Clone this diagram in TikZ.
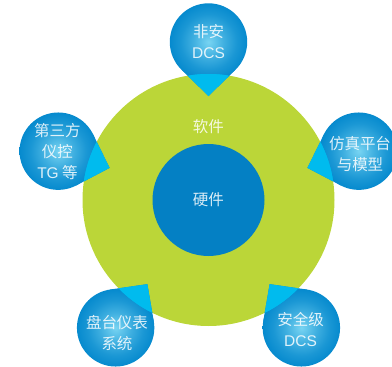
\documentclass[tikz,border=0pt]{standalone}
\usepackage{fontspec}
\usetikzlibrary{calc}
\newfontfamily\cjk{Noto Sans CJK SC}
\newfontfamily\lat{Liberation Sans}
\definecolor{leaf}{RGB}{187,214,56}
\definecolor{core}{RGB}{4,128,196}
\definecolor{bubout}{RGB}{6,138,206}
\definecolor{bubin}{RGB}{120,212,242}
\definecolor{tipcyan}{RGB}{0,187,238}
\pgfdeclareradialshading{bubble}{\pgfpoint{0bp}{0bp}}{color(0bp)=(bubin); color(10bp)=(bubin!50!bubout); color(18bp)=(bubin!18!bubout); color(25bp)=(bubout); color(50bp)=(bubout)}
\begin{document}
\begin{tikzpicture}[x=1pt,y=1pt,
  lbl/.style={text=white, text opacity=0.85, font=\cjk\fontsize{15.5}{21}\selectfont, align=center, inner sep=0pt}]
\useasboundingbox (0,0) rectangle (392,-367);
\clip (0,0) rectangle (392,-367);
\coordinate (O) at (208.5,-200);
\fill[leaf] (O) circle (126);
\fill[core] (O) circle (56);
\foreach \ang/\nm in {90/a,162/b,18/c,234/d,306/e}{
  \coordinate (\nm C) at ($(O)+(\ang:158)$);
  \coordinate (\nm T) at ($(\nm C)+(\ang+180:54)$);
  \coordinate (\nm P) at ($(\nm C)+(\ang+180+44.4:38.7)$);
  \coordinate (\nm Q) at ($(\nm C)+(\ang+180-44.4:38.7)$);
  \fill[bubout] (\nm P) -- (\nm T) -- (\nm Q) -- (\nm C) -- cycle;
  \shade[shading=bubble] (\nm C) circle (38.7);
  \begin{scope}
    \clip (O) circle (126);
    \fill[tipcyan] (\nm P) -- (\nm T) -- (\nm Q) -- (\nm C) -- cycle;
    \fill[tipcyan] (\nm C) circle (38.7);
  \end{scope}
}
\node[lbl] (ta) at (208.5,-41.5) {非安\\{\lat DCS}};
\node[lbl] (tb) at (57.5,-151.5) {第三方\\仪控\\{\lat TG} 等};
\node[lbl] (tc) at (360,-154.5) {仿真平台\\与模型};
\node[lbl] (td) at (117,-333) {盘台仪表\\系统};
\node[lbl] (te) at (300.5,-329) {安全级\\{\lat DCS}};
\node[lbl] (soft) at (208.5,-127) {软件};
\node[lbl] (hard) at (208.5,-200) {硬件};
\end{tikzpicture}
\end{document}
